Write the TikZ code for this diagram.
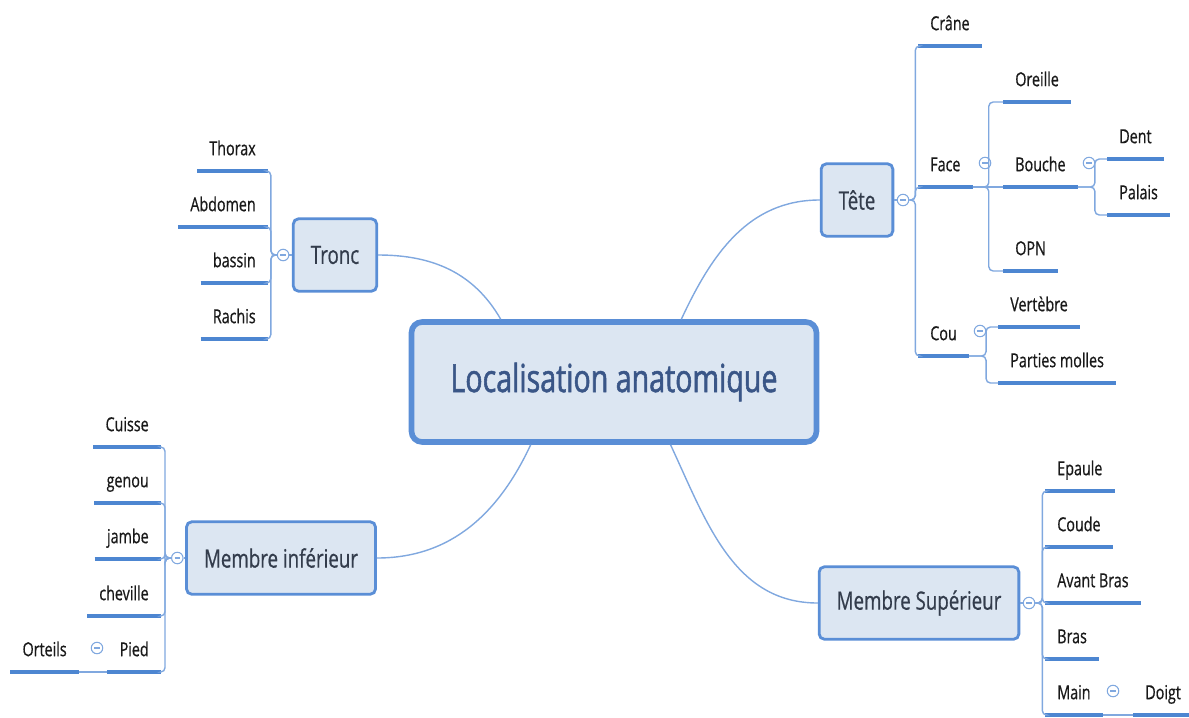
\documentclass[tikz,border=0pt]{standalone}
\usepackage{fontspec}
\setmainfont{Open Sans}[FakeStretch=0.74, FakeBold=0.6]
\newfontfamily\topicfont{Open Sans}[FakeStretch=0.74, FakeBold=1.4]
\usetikzlibrary{positioning}

\definecolor{boxfill}{HTML}{DCE6F2}
\definecolor{boxline}{HTML}{5A8ED6}
\definecolor{branchc}{HTML}{80A8DF}
\definecolor{barc}{HTML}{4D86D1}
\definecolor{titletext}{HTML}{3A5687}
\definecolor{midtext}{HTML}{333C4C}

\begin{document}
\begin{tikzpicture}[x=0.02cm, y=0.02cm,
    topic/.style = {draw=boxline, line width=3.2pt, fill=boxfill, rounded corners=6pt, minimum width=8.1cm, minimum height=2.4cm, font=\topicfont\fontsize{22}{26}\selectfont, text=titletext},
    subtopic/.style = {draw=boxline, line width=1.6pt, fill=boxfill, rounded corners=3pt, minimum height=1.45cm, inner xsep=0.35cm, font=\fontsize{14.4}{17}\selectfont, text=midtext},
    leaf/.style = {inner xsep=7pt, inner ysep=0pt, outer sep=0pt, text height=8pt, text depth=9pt, font=\fontsize{11}{13}\selectfont, text=black!90,
      append after command={(\tikzlastnode.south west) edge[draw=barc, line width=2.3pt] (\tikzlastnode.south east)}},
    fold/.style = {circle, draw=branchc, fill=white, line width=0.6pt, minimum size=0.23cm, inner sep=0pt,
      path picture={\draw[branchc, line width=0.6pt] ([xshift=-0.055cm]path picture bounding box.center) -- ([xshift=0.055cm]path picture bounding box.center);}},
    link/.style = {draw=branchc, line width=0.8pt, rounded corners=2.5pt},
    br/.style = {to path={-- ++(#1,0) |- (\tikztotarget)}}]
    \useasboundingbox (0,0) rectangle (1189,-717);

    \node[topic] (loc) at (614,-382) {Localisation anatomique};

    \node[subtopic] (tronc) at (335,-255) {Tronc};
    \node[subtopic] (tete) at (857,-200) {Tête};
    \node[subtopic] (inf) at (281,-558) {Membre inférieur};
    \node[subtopic] (sup) at (919,-603) {Membre Supérieur};

    \node[fold, left=0.05cm of tronc] (tronc-f) {};
    \node[fold, right=0.05cm of tete] (tete-f) {};
    \node[fold, left=0.03cm of inf] (inf-f) {};
    \node[fold, right=0.05cm of sup] (sup-f) {};

    % Tronc
    \node[leaf, anchor=south east] (thorax) at (268,-171) {Thorax};
    \node[leaf, anchor=south east] (abdomen) at (268,-227) {Abdomen};
    \node[leaf, anchor=south east] (bassin) at (268,-283) {bassin};
    \node[leaf, anchor=south east] (rachis) at (268,-339) {Rachis};

    % Tete
    \node[leaf, anchor=south west] (crane) at (918,-46) {Crâne};
    \node[leaf, anchor=south west] (face) at (918,-187) {Face};
    \node[leaf, anchor=south west] (cou) at (918,-356) {Cou};
    \node[fold] (face-f) at (985,-163) {};
    \node[leaf, anchor=south west] (oreille) at (1003,-102) {Oreille};
    \node[leaf, anchor=south west] (bouche) at (1003,-187) {Bouche};
    \node[leaf, anchor=south west] (opn) at (1003,-271) {OPN};
    \node[fold] (bouche-f) at (1089,-163) {};
    \node[leaf, anchor=south west] (dent) at (1107,-159) {Dent};
    \node[leaf, anchor=south west] (palais) at (1107,-215) {Palais};
    \node[fold] (cou-f) at (980,-331) {};
    \node[leaf, anchor=south west] (vertebre) at (998,-327) {Vertèbre};
    \node[leaf, anchor=south west] (molles) at (998,-383) {Parties molles};

    % Membre inferieur
    \node[leaf, anchor=south east] (cuisse) at (161,-447) {Cuisse};
    \node[leaf, anchor=south east] (genou) at (161,-503) {genou};
    \node[leaf, anchor=south east] (jambe) at (161,-559) {jambe};
    \node[leaf, anchor=south east] (cheville) at (161,-616) {cheville};
    \node[leaf, anchor=south east] (pied) at (161,-672) {Pied};
    \node[fold] (pied-f) at (97,-648) {};
    \node[leaf, anchor=south east] (orteils) at (79,-672) {Orteils};

    % Membre superieur
    \node[leaf, anchor=south west] (epaule) at (1045,-491) {Epaule};
    \node[leaf, anchor=south west] (coude) at (1045,-547) {Coude};
    \node[leaf, anchor=south west] (avbras) at (1045,-603) {Avant Bras};
    \node[leaf, anchor=south west] (bras) at (1045,-659) {Bras};
    \node[leaf, anchor=south west] (main) at (1045,-715) {Main};
    \node[fold] (main-f) at (1113,-691) {};
    \node[leaf, anchor=south west] (doigt) at (1133,-715) {Doigt};

    \draw[link] (loc.151) to[out=120, in=0] (tronc.east);
    \draw[link] (loc.43) to[out=65, in=180] (tete.west);
    \draw[link] (loc.217) to[out=245, in=0] (inf.east);
    \draw[link] (loc.312) to[out=295, in=180] (sup.west);

    \draw[link] (tronc) -- (tronc-f);
    \draw[link] (tronc-f.west) to[br=-6] (thorax.south east);
    \draw[link] (tronc-f.west) to[br=-6] (abdomen.south east);
    \draw[link] (tronc-f.west) to[br=-6] (bassin.south east);
    \draw[link] (tronc-f.west) to[br=-6] (rachis.south east);

    \draw[link] (tete) -- (tete-f);
    \draw[link] (tete-f.east) to[br=6] (crane.south west);
    \draw[link] (tete-f.east) to[br=6] (face.south west);
    \draw[link] (tete-f.east) to[br=6] (cou.south west);
    \draw[link] (face.south east) to[br=16] (oreille.south west);
    \draw[link] (face.south east) -- (bouche.south west);
    \draw[link] (face.south east) to[br=16] (opn.south west);
    \draw[link] (bouche.south east) to[br=17] (dent.south west);
    \draw[link] (bouche.south east) to[br=17] (palais.south west);
    \draw[link] (cou.south east) to[br=17] (vertebre.south west);
    \draw[link] (cou.south east) to[br=17] (molles.south west);

    \draw[link] (inf) -- (inf-f);
    \draw[link] (inf-f.west) to[br=-6] (cuisse.south east);
    \draw[link] (inf-f.west) to[br=-6] (genou.south east);
    \draw[link] (inf-f.west) to[br=-6] (jambe.south east);
    \draw[link] (inf-f.west) to[br=-6] (cheville.south east);
    \draw[link] (inf-f.west) to[br=-6] (pied.south east);
    \draw[link] (pied.south west) -- (orteils.south east);

    \draw[link] (sup) -- (sup-f);
    \draw[link] (sup-f.east) to[br=7] (epaule.south west);
    \draw[link] (sup-f.east) to[br=7] (coude.south west);
    \draw[link] (sup-f.east) to[br=7] (avbras.south west);
    \draw[link] (sup-f.east) to[br=7] (bras.south west);
    \draw[link] (sup-f.east) to[br=7] (main.south west);
    \draw[link] (main.south east) -- (doigt.south west);
  \end{tikzpicture}
\end{document}
